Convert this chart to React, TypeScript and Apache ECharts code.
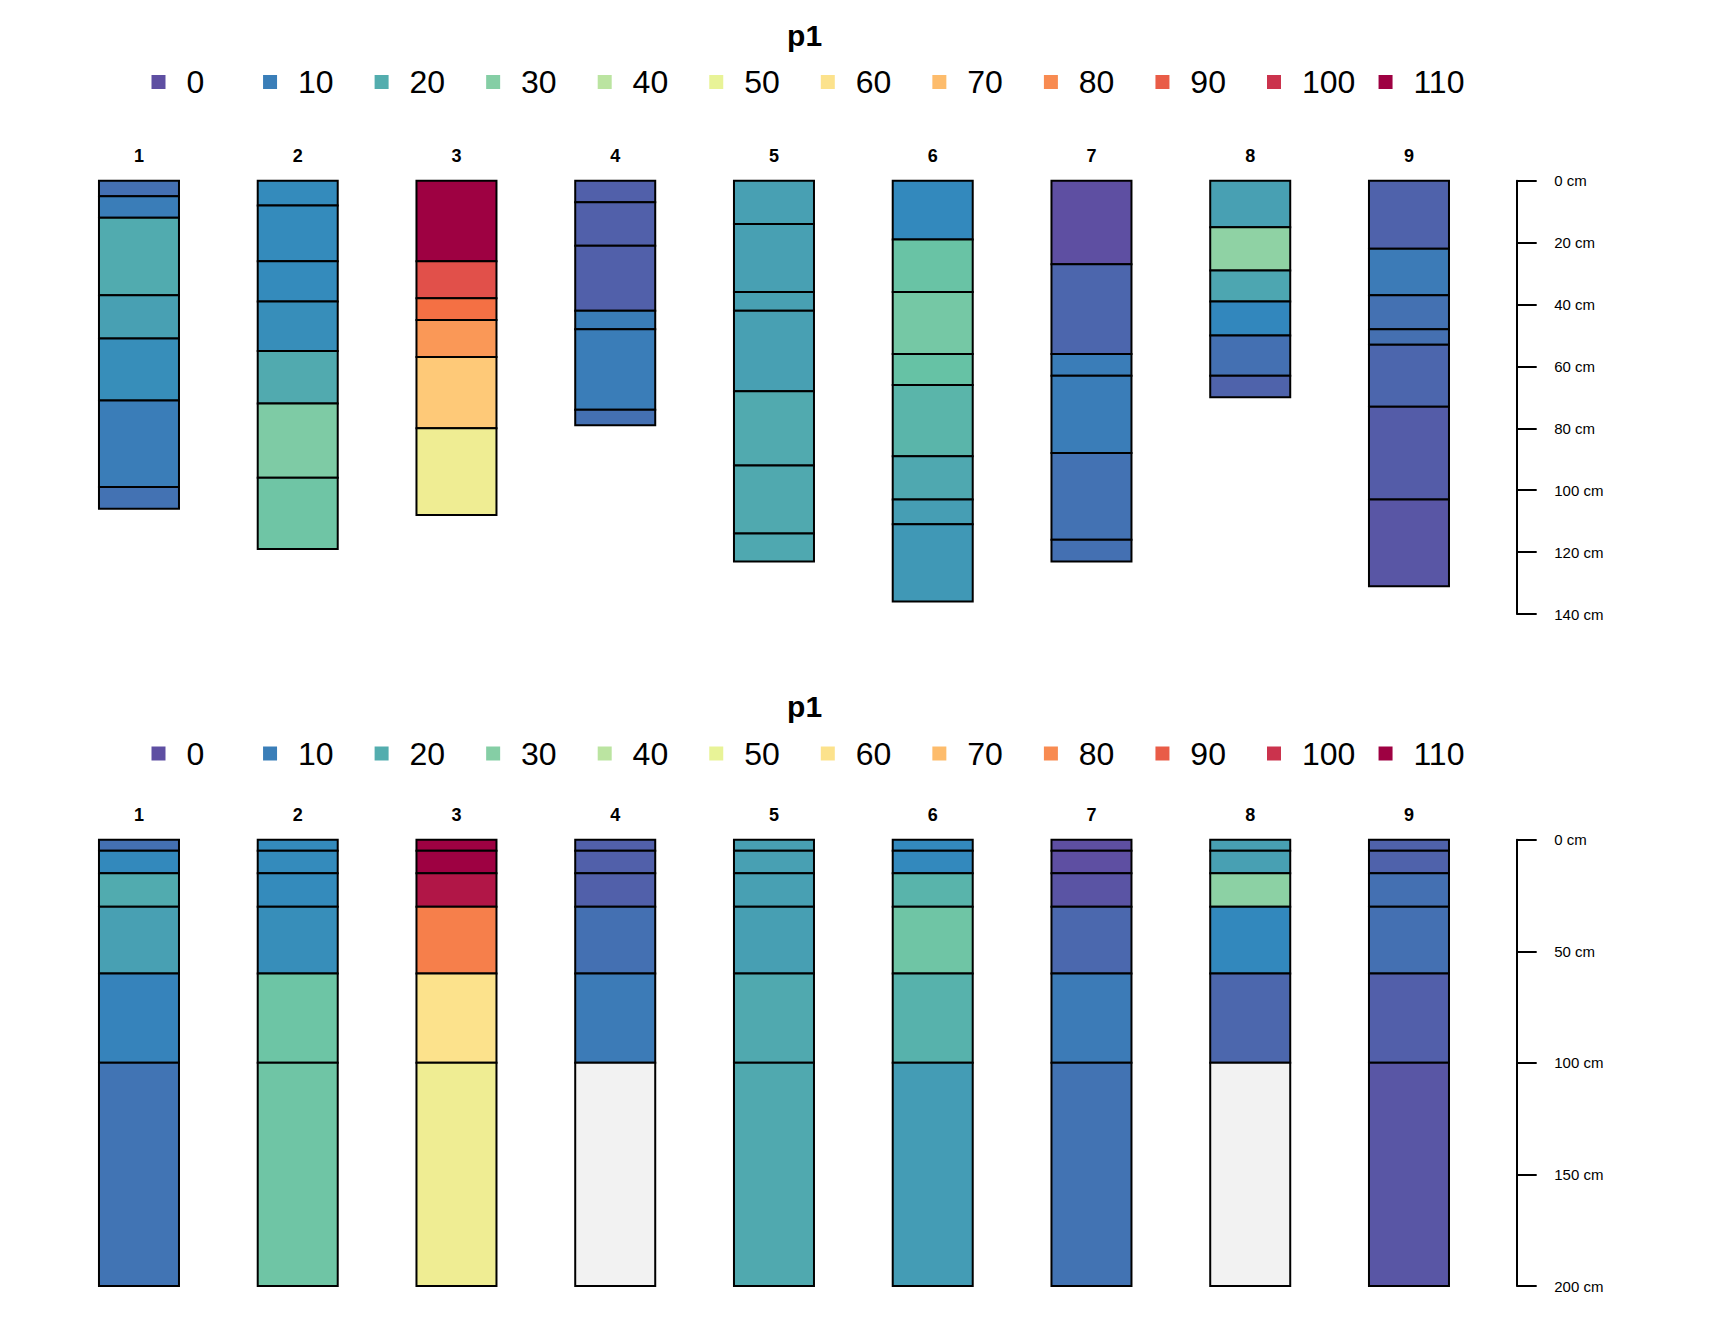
import React, { useEffect, useRef } from "react";
import * as echarts from "echarts";

// ---------- data ----------
const profileIds = ["1", "2", "3", "4", "5", "6", "7", "8", "9"];

// colour ramp (Spectral, 10 classes, low -> high) spread over the p1 range
const paletteStops = [
  "#5E4FA2", "#3288BD", "#66C2A5", "#ABDDA4", "#E6F598",
  "#FEE08B", "#FDAE61", "#F46D43", "#D53E4F", "#9E0142",
];
const rampMin = 0;
const rampMax = 110;
const legendValues = [0, 10, 20, 30, 40, 50, 60, 70, 80, 90, 100, 110];
const naColor = "#F2F2F2";

// top panel: horizon boundaries (cm) and p1 values per profile
const topDepths = [
  [0, 5, 12, 37, 51, 71, 99, 106],
  [0, 8, 26, 39, 55, 72, 96, 119],
  [0, 26, 38, 45, 57, 80, 108],
  [0, 7, 21, 42, 48, 74, 79],
  [0, 14, 36, 42, 68, 92, 114, 123],
  [0, 19, 36, 56, 66, 89, 103, 111, 136],
  [0, 27, 56, 63, 88, 116, 123],
  [0, 15, 29, 39, 50, 63, 70],
  [0, 22, 37, 48, 53, 73, 103, 131],
];
const topValues = [
  [7.1, 9.9, 19.6, 17.3, 13.5, 9.9, 7.5],
  [12.8, 12.8, 12.8, 13.5, 19.4, 28.7, 26],
  [110, 93, 85, 77.5, 66.7, 53.5],
  [3.6, 3.6, 3.6, 9.9, 9.9, 7.1],
  [17.3, 17.3, 17.3, 17.3, 19.4, 19.2, 19],
  [12.4, 24.9, 27.1, 24.4, 21.7, 19, 16.9, 15.6],
  [0, 4.9, 9.9, 9.9, 7.5, 7.1],
  [17.3, 31.7, 18.5, 12.1, 7.1, 4.3],
  [4.1, 9.4, 7.3, 7, 4.9, 2.8, 1.5],
];

// bottom panel: standard depth slices and aggregated p1 values (null = NA)
const sliceDepths = [0, 5, 15, 30, 60, 100, 200];
const bottomValues = [
  [7.1, 12.5, 19.6, 17.3, 11.2, 8],
  [12.8, 12.8, 12.8, 13.5, 25.7, 26],
  [110, 110, 105.7, 82.2, 60, 53.5],
  [3.6, 3.6, 3.6, 7.1, 9.4, null],
  [17.3, 17.3, 17.3, 17.1, 19.2, 19.2],
  [12.4, 12.4, 21.5, 26, 21, 16.4],
  [0, 0, 1.1, 5.4, 9.4, 7.7],
  [17.3, 17.3, 31.2, 12.2, 5.1, null],
  [4.1, 4.1, 7.1, 7.1, 3.4, 1.5],
];

const topAxisMax = 140;
const topAxisStep = 20;
const bottomAxisMax = 200;
const bottomAxisStep = 50;
const titleText = "p1";

// ---------- helpers ----------
function hexToRgb(h: string) {
  const n = parseInt(h.slice(1), 16);
  return [(n >> 16) & 255, (n >> 8) & 255, n & 255];
}
function rampColor(v: number | null) {
  if (v === null || v === undefined) return naColor;
  const f = Math.max(0, Math.min(1, (v - rampMin) / (rampMax - rampMin)));
  const pos = f * (paletteStops.length - 1);
  const i = Math.min(paletteStops.length - 2, Math.floor(pos));
  const t = pos - i;
  const a = hexToRgb(paletteStops[i]);
  const b = hexToRgb(paletteStops[i + 1]);
  const r = a.map((x, k) => Math.round(x + (b[k] - x) * t));
  return `rgb(${r[0]},${r[1]},${r[2]})`;
}

const FONT = "'Liberation Sans', Arial, Helvetica, sans-serif";

export default function App() {
  const ref = useRef<HTMLDivElement>(null);
  useEffect(() => {
    if (!ref.current) return;
    const chart = echarts.init(ref.current, undefined, { renderer: "svg" });

    const topData: any[] = [];
    topDepths.forEach((d, p) => {
      for (let h = 0; h < d.length - 1; h++) {
        topData.push({ value: [p, d[h], d[h + 1]], itemStyle: { color: rampColor(topValues[p][h]) } });
      }
    });
    const bottomData: any[] = [];
    bottomValues.forEach((vals, p) => {
      for (let h = 0; h < sliceDepths.length - 1; h++) {
        bottomData.push({ value: [p, sliceDepths[h], sliceDepths[h + 1]], itemStyle: { color: rampColor(vals[h]) } });
      }
    });

    const renderItem = (params: any, api: any) => {
      const x = api.value(0);
      const a = api.coord([x, api.value(1)]);
      const b = api.coord([x, api.value(2)]);
      const w = api.size([1, 0])[0] * 0.504;
      return {
        type: "rect",
        shape: { x: a[0] - w / 2, y: a[1], width: w, height: b[1] - a[1] },
        style: { fill: api.visual("color"), stroke: "#000", lineWidth: 2 },
      };
    };

    const gridLeft = 59.6;
    const gridWidth = 1428.75;
    const panelOffset = 671.5;

    const graphics: any[] = [];
    [0, panelOffset].forEach((off) => {
      graphics.push({
        type: "text",
        x: 804.6,
        y: 35 + off,
        style: { text: titleText, font: `bold 30px ${FONT}`, fill: "#000", align: "center", verticalAlign: "middle" },
      });
      legendValues.forEach((v, i) => {
        graphics.push({
          type: "rect",
          shape: { x: 151.5 + 111.55 * i, y: 75 + off, width: 14, height: 14 },
          style: { fill: rampColor(v) },
        });
        graphics.push({
          type: "text",
          x: 186.4 + 111.55 * i,
          y: 82 + off,
          style: { text: String(v), font: `32px ${FONT}`, fill: "#000", align: "left", verticalAlign: "middle" },
        });
      });
    });

    const xAxisCommon = {
      type: "category",
      data: profileIds,
      position: "top",
      boundaryGap: true,
      axisLine: { show: false },
      axisTick: { show: false },
      splitLine: { show: false },
      axisLabel: { fontFamily: FONT, fontWeight: "bold", fontSize: 18, color: "#000", margin: 16 },
    };
    const yAxisCommon = {
      type: "value",
      inverse: true,
      min: 0,
      position: "right",
      offset: 28.35,
      axisLine: { show: true, lineStyle: { color: "#000", width: 2 } },
      axisTick: { show: true, length: 20, inside: false, lineStyle: { color: "#000", width: 2 } },
      splitLine: { show: false },
      axisLabel: { fontFamily: FONT, fontSize: 15, color: "#000", margin: 37.5, formatter: "{value} cm" },
    };

    chart.setOption({
      animation: false,
      backgroundColor: "#fff",
      grid: [
        { left: gridLeft, width: gridWidth, top: 180.7, height: 433.3 },
        { left: gridLeft, width: gridWidth, top: 839.7, height: 446.3 },
      ],
      xAxis: [
        { ...xAxisCommon, gridIndex: 0 },
        { ...xAxisCommon, gridIndex: 1 },
      ],
      yAxis: [
        { ...yAxisCommon, gridIndex: 0, max: topAxisMax, interval: topAxisStep },
        { ...yAxisCommon, gridIndex: 1, max: bottomAxisMax, interval: bottomAxisStep },
      ],
      series: [
        { type: "custom", xAxisIndex: 0, yAxisIndex: 0, renderItem, data: topData, encode: { x: 0, y: [1, 2] } },
        { type: "custom", xAxisIndex: 1, yAxisIndex: 1, renderItem, data: bottomData, encode: { x: 0, y: [1, 2] } },
      ],
      graphic: graphics,
    });

    return () => chart.dispose();
  }, []);

  return (
    <div
      ref={ref}
      style={{ position: "absolute", left: 0, top: 0, width: 1728, height: 1344, background: "#fff" }}
    />
  );
}
